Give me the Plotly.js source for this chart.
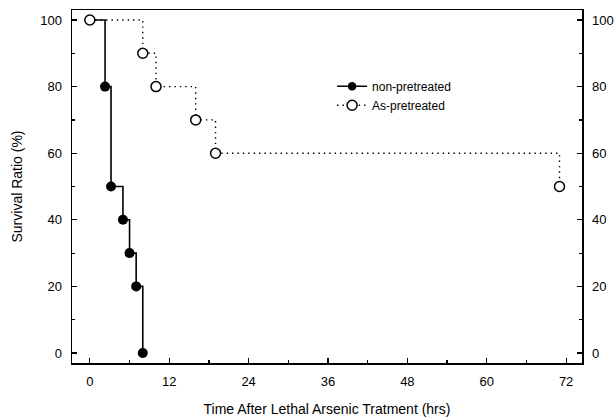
<!DOCTYPE html>
<html>
<head>
<meta charset="utf-8">
<script src="https://cdn.plot.ly/plotly-3.0.1.min.js"></script>
<style>html,body{margin:0;padding:0;background:#fff;}#chart{width:616px;height:417px;}</style>
</head>
<body>
<div id="chart"></div>
<script>
// Data
const nonTime = [0, 2.3, 3.2, 5, 6, 7, 8];
const nonSurvival = [100, 80, 50, 40, 30, 20, 0];
const asTime = [0, 8, 10, 16, 19, 71];
const asSurvival = [100, 90, 80, 70, 60, 50];
const xTicks = [0, 12, 24, 36, 48, 60, 72];
const yTicks = [0, 20, 40, 60, 80, 100];

const font = 'Liberation Sans, Arial, Helvetica, sans-serif';

const traces = [
  {
    x: nonTime, y: nonSurvival, name: 'non-pretreated',
    mode: 'lines+markers', line: {shape: 'hv', color: '#000', width: 1.6},
    marker: {symbol: 'circle', size: nonTime.map((t, i) => i === 0 ? 0 : 10), color: '#000', opacity: 1,
             line: {color: '#000', width: 0}}
  },
  {
    x: asTime, y: asSurvival, name: 'As-pretreated',
    mode: 'lines+markers', line: {shape: 'hv', color: '#000', width: 1.4, dash: '1.4px,4px'},
    marker: {symbol: 'circle', size: 10, color: '#fff', opacity: 1, line: {color: '#000', width: 1.5}}
  },
  {
    // carrier for the mirrored right-hand axis (invisible)
    x: asTime, y: asSurvival, yaxis: 'y2', mode: 'markers', showlegend: false,
    hoverinfo: 'skip', marker: {opacity: 0}
  }
];

const axisCommon = {
  ticks: 'inside', ticklen: 5, tickwidth: 1.2, tickcolor: '#000',
  showline: true, linecolor: '#000', linewidth: 1.5,
  showgrid: false, zeroline: false, ticklabelstandoff: 6,
  tickfont: {size: 13}
};

const layout = {
  width: 616, height: 417,
  margin: {l: 72, r: 34, t: 10, b: 54},
  paper_bgcolor: '#fff', plot_bgcolor: '#fff',
  font: {family: font, size: 13, color: '#000'},
  showlegend: true,
  legend: {x: 0.51, y: 0.825, xanchor: 'left', yanchor: 'top', bgcolor: 'rgba(0,0,0,0)',
           font: {size: 12}, tracegroupgap: 0, itemwidth: 30},
  xaxis: Object.assign({}, axisCommon, {
    range: [-2.7, 74.4], tickvals: xTicks, ticktext: xTicks.map(String), mirror: true,
    minor: {dtick: 6, tick0: 0, ticks: 'inside', ticklen: 3, tickcolor: '#000'},
    title: {text: 'Time After Lethal Arsenic Tratment (hrs)', font: {size: 14}, standoff: 16}
  }),
  yaxis: Object.assign({}, axisCommon, {
    range: [-3, 103], tickvals: yTicks, ticktext: yTicks.map(String),
    minor: {dtick: 10, tick0: 0, ticks: 'inside', ticklen: 3, tickcolor: '#000'},
    title: {text: 'Survival Ratio (%)', font: {size: 14}, standoff: 14}
  }),
  yaxis2: Object.assign({}, axisCommon, {
    overlaying: 'y', side: 'right', range: [-3, 103],
    tickvals: yTicks, ticktext: yTicks.map(String),
    minor: {dtick: 10, tick0: 0, ticks: 'inside', ticklen: 3, tickcolor: '#000'}
  })
};

Plotly.newPlot('chart', traces, layout, {displayModeBar: false, staticPlot: true});
</script>
</body>
</html>
